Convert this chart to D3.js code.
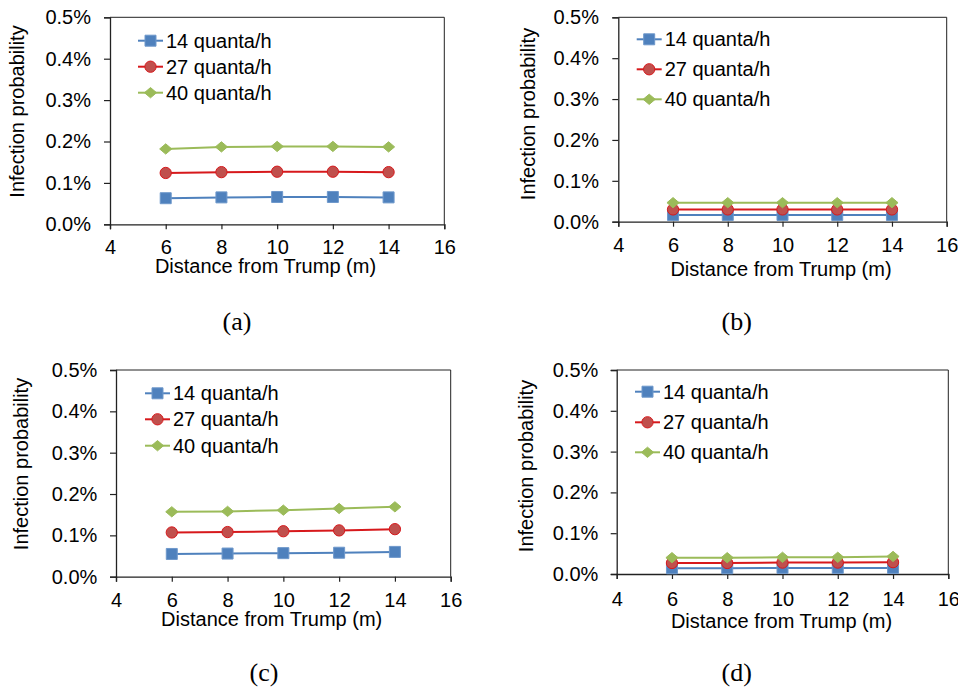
<!DOCTYPE html>
<html>
<head>
<meta charset="utf-8">
<script src="https://cdn.jsdelivr.net/npm/d3@7"></script>
<style>
  body { margin: 0; background: #fff; }
  svg { display: block; }
  text { font-family: "Liberation Sans", Arial, sans-serif; fill: #000; }
</style>
</head>
<body>
<div id="chart"></div>
<script>
// distances (m) and series labels
const distances = [6, 8, 10, 12, 14];
const seriesNames = ["14 quanta/h", "27 quanta/h", "40 quanta/h"];
const panelLabels = ["(a)", "(b)", "(c)", "(d)"];
const xTicks = [4, 6, 8, 10, 12, 14, 16];
const yTicks = [0, 0.001, 0.002, 0.003, 0.004, 0.005];

// infection probability (fraction)
const panelA14 = [0.00063, 0.00065, 0.00066, 0.00066, 0.00065];
const panelA27 = [0.00124, 0.00126, 0.00127, 0.00127, 0.00126];
const panelA40 = [0.00182, 0.00187, 0.00188, 0.00188, 0.00187];

const panelB14 = [0.000165, 0.000165, 0.000165, 0.000165, 0.000165];
const panelB27 = [0.00030, 0.00030, 0.00030, 0.00030, 0.00030];
const panelB40 = [0.000465, 0.000465, 0.000465, 0.000465, 0.000465];

const panelC14 = [0.00055, 0.00056, 0.00057, 0.00058, 0.00060];
const panelC27 = [0.00107, 0.00108, 0.00110, 0.00112, 0.00115];
const panelC40 = [0.00157, 0.00158, 0.00161, 0.00165, 0.00169];

const panelD14 = [0.00014, 0.00014, 0.00015, 0.00015, 0.00015];
const panelD27 = [0.00027, 0.00027, 0.00028, 0.00028, 0.00029];
const panelD40 = [0.00040, 0.00040, 0.00041, 0.00041, 0.00043];

const panelData = [
  [panelA14, panelA27, panelA40],
  [panelB14, panelB27, panelB40],
  [panelC14, panelC27, panelC40],
  [panelD14, panelD27, panelD40],
];

// layout of each panel in the page
const layouts = [
  { L: 110, R: 444.3, T: 17.3, B: 224.3, yLabEnd: 91, yTitleX: 17, yTitleY: 111.5,
    xTitleX: 265.5, xTitleY: 273, xLabTop: 15.7, legX: 138, legRows: [40.7, 66.7, 92.7], capX: 237, capY: 322 },
  { L: 618.3, R: 946.7, T: 17.3, B: 221.7, yLabEnd: 599, yTitleX: 528, yTitleY: 114,
    xTitleX: 781, xTitleY: 276, xLabTop: 16.3, legX: 636.7, legRows: [39.3, 69.3, 99.3], capX: 736.7, capY: 321.7 },
  { L: 116, R: 450.7, T: 370, B: 576.7, yLabEnd: 97.3, yTitleX: 20.7, yTitleY: 464,
    xTitleX: 271.7, xTitleY: 626, xLabTop: 16.6, legX: 145, legRows: [393.3, 419.3, 445.7], capX: 264, capY: 672.7 },
  { L: 616.7, R: 948.3, T: 370, B: 574, yLabEnd: 598.3, yTitleX: 526, yTitleY: 466,
    xTitleX: 781.5, xTitleY: 628, xLabTop: 17.7, legX: 635, legRows: [391.7, 422.3, 452.3], capX: 736.7, capY: 672.7 },
];

// Excel-like wide diamond (about 12 wide, 10 tall)
const wideDiamond = {
  draw(context, size) {
    const w = Math.sqrt(size) * 0.55, h = w * 0.85;
    context.moveTo(0, -h);
    context.lineTo(w, 0);
    context.lineTo(0, h);
    context.lineTo(-w, 0);
    context.closePath();
  },
};

const styles = [
  { line: "#4F81BD", fill: "#4F81BD", stroke: "#6E98CB", symbol: d3.symbolSquare, size: 121 },
  { line: "#D7191C", fill: "#C0504D", stroke: "#D7191C", symbol: d3.symbolCircle, size: 100 },
  { line: "#9BBB59", fill: "#9BBB59", stroke: "#9BBB59", symbol: wideDiamond, size: 121 },
];

const width = 958, height = 692;
const svg = d3.select("#chart").append("svg")
  .attr("width", width)
  .attr("height", height);

svg.append("rect").attr("width", width).attr("height", height).attr("fill", "#fff");

layouts.forEach((lay, p) => {
  const g = svg.append("g");
  const x = d3.scaleLinear().domain([4, 16]).range([lay.L, lay.R]);
  const y = d3.scaleLinear().domain([0, 0.005]).range([lay.B, lay.T]);
  const tickSize = 6;

  // plot area frame (top and right)
  g.append("path")
    .attr("d", `M${lay.L},${lay.T}H${lay.R}V${lay.B}`)
    .attr("fill", "none")
    .attr("stroke", "#222")
    .attr("stroke-width", 1);

  // y axis
  const yAxis = g.append("g")
    .attr("transform", `translate(${lay.L},0)`)
    .call(d3.axisLeft(y).tickValues(yTicks).tickSizeOuter(0).tickSize(tickSize)
      .tickPadding(lay.L - tickSize - lay.yLabEnd)
      .tickFormat(d3.format(".1%")));

  // x axis
  const xAxis = g.append("g")
    .attr("transform", `translate(0,${lay.B})`)
    .call(d3.axisBottom(x).tickValues(xTicks).tickSizeOuter(0).tickSize(5)
      .tickPadding(lay.xLabTop - 5));

  [yAxis, xAxis].forEach((ax) => {
    ax.select(".domain").attr("stroke", "#222").attr("stroke-width", 1.3);
    ax.selectAll(".tick line").attr("stroke", "#222").attr("stroke-width", 1.2);
    ax.selectAll(".tick text")
      .attr("fill", "#000")
      .style("font-family", '"Liberation Sans", Arial, sans-serif')
      .style("font-size", "20px");
  });

  // series
  const line = d3.line().x((d) => x(d.x)).y((d) => y(d.y));
  panelData[p].forEach((vals, s) => {
    const st = styles[s];
    const pts = distances.map((dx, i) => ({ x: dx, y: vals[i] }));
    g.append("path")
      .datum(pts)
      .attr("d", line)
      .attr("fill", "none")
      .attr("stroke", st.line)
      .attr("stroke-width", 2);
    g.selectAll(null)
      .data(pts)
      .join("path")
      .attr("transform", (d) => `translate(${x(d.x)},${y(d.y)})`)
      .attr("d", d3.symbol().type(st.symbol).size(st.size))
      .attr("fill", st.fill)
      .attr("stroke", st.stroke)
      .attr("stroke-width", 1);
  });

  // legend
  seriesNames.forEach((name, s) => {
    const st = styles[s];
    const ly = lay.legRows[s];
    g.append("line")
      .attr("x1", lay.legX).attr("x2", lay.legX + 25)
      .attr("y1", ly).attr("y2", ly)
      .attr("stroke", st.line).attr("stroke-width", 2);
    g.append("path")
      .attr("transform", `translate(${lay.legX + 12.5},${ly})`)
      .attr("d", d3.symbol().type(st.symbol).size(st.size))
      .attr("fill", st.fill)
      .attr("stroke", st.stroke)
      .attr("stroke-width", 1);
    g.append("text")
      .attr("x", lay.legX + 28)
      .attr("y", ly)
      .attr("dy", "0.35em")
      .style("font-size", "20px")
      .text(name);
  });

  // axis titles
  g.append("text")
    .attr("x", lay.xTitleX)
    .attr("y", lay.xTitleY)
    .attr("text-anchor", "middle")
    .style("font-size", "20px")
    .text("Distance from Trump (m)");

  g.append("text")
    .attr("transform", `translate(${lay.yTitleX},${lay.yTitleY}) rotate(-90)`)
    .attr("text-anchor", "middle")
    .attr("dy", "0.35em")
    .style("font-size", "20px")
    .text("Infection probability");

  // panel caption
  g.append("text")
    .attr("x", lay.capX)
    .attr("y", lay.capY)
    .attr("text-anchor", "middle")
    .attr("dy", "0.32em")
    .style("font-family", '"Liberation Serif", "Times New Roman", serif')
    .style("font-size", "26px")
    .text(panelLabels[p]);
});
</script>
</body>
</html>
